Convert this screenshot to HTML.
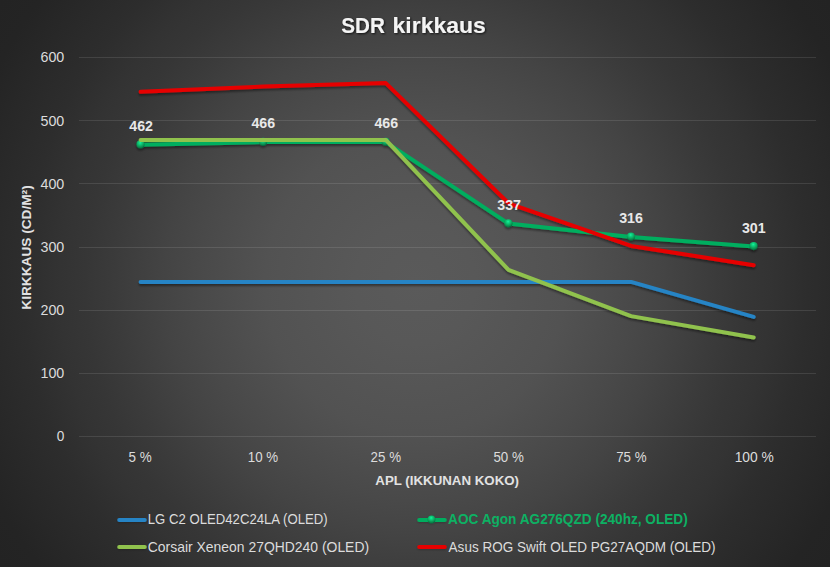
<!DOCTYPE html>
<html><head><meta charset="utf-8"><title>SDR kirkkaus</title>
<style>
html,body{margin:0;padding:0;background:#232323;}
body{width:830px;height:567px;overflow:hidden;font-family:"Liberation Sans",sans-serif;}
svg{display:block;font-family:"Liberation Sans",sans-serif;}
</style></head><body>
<svg width="830" height="567" viewBox="0 0 830 567">
<defs>
<radialGradient id="bg" gradientUnits="userSpaceOnUse" cx="415" cy="283.5" r="502">
<stop offset="0.0000" stop-color="rgb(90,90,90)"/>
<stop offset="0.0598" stop-color="rgb(89,89,89)"/>
<stop offset="0.1195" stop-color="rgb(88,88,88)"/>
<stop offset="0.1793" stop-color="rgb(86,86,86)"/>
<stop offset="0.2390" stop-color="rgb(84,84,84)"/>
<stop offset="0.2988" stop-color="rgb(82,82,82)"/>
<stop offset="0.3586" stop-color="rgb(78,78,78)"/>
<stop offset="0.4323" stop-color="rgb(73,73,73)"/>
<stop offset="0.4980" stop-color="rgb(68,68,68)"/>
<stop offset="0.5538" stop-color="rgb(63,63,63)"/>
<stop offset="0.5976" stop-color="rgb(59,59,59)"/>
<stop offset="0.6574" stop-color="rgb(54,54,54)"/>
<stop offset="0.7072" stop-color="rgb(51,51,51)"/>
<stop offset="0.7809" stop-color="rgb(45,45,45)"/>
<stop offset="0.8167" stop-color="rgb(43,43,43)"/>
<stop offset="0.8685" stop-color="rgb(40,40,40)"/>
<stop offset="0.9363" stop-color="rgb(36,36,36)"/>
<stop offset="1.0000" stop-color="rgb(35,35,35)"/>
</radialGradient>
<filter id="sh" filterUnits="userSpaceOnUse" x="0" y="0" width="830" height="567">
<feGaussianBlur in="SourceAlpha" stdDeviation="1.1"/>
<feOffset dx="0" dy="1.6"/>
<feComponentTransfer><feFuncA type="linear" slope="0.42"/></feComponentTransfer>
<feMerge><feMergeNode/><feMergeNode in="SourceGraphic"/></feMerge>
</filter>
<filter id="lsh" filterUnits="userSpaceOnUse" x="100" y="500" width="400" height="67">
<feGaussianBlur in="SourceAlpha" stdDeviation="0.9"/>
<feOffset dx="0" dy="1"/>
<feComponentTransfer><feFuncA type="linear" slope="0.22"/></feComponentTransfer>
<feMerge><feMergeNode/><feMergeNode in="SourceGraphic"/></feMerge>
</filter>
<filter id="tsh" filterUnits="userSpaceOnUse" x="300" y="0" width="230" height="50">
<feGaussianBlur in="SourceAlpha" stdDeviation="1.1"/>
<feOffset dx="0.8" dy="1.4"/>
<feComponentTransfer><feFuncA type="linear" slope="0.75"/></feComponentTransfer>
<feMerge><feMergeNode/><feMergeNode in="SourceGraphic"/></feMerge>
</filter>
<radialGradient id="mk" cx="0.46" cy="0.30" r="0.66">
<stop offset="0" stop-color="#14f5a0"/><stop offset="0.22" stop-color="#10d884"/><stop offset="0.55" stop-color="#0bb064"/><stop offset="1" stop-color="#067040"/>
</radialGradient>
</defs>

<rect width="830" height="567" fill="url(#bg)"/>
<g stroke="#ffffff" stroke-opacity="0.105" stroke-width="1" shape-rendering="crispEdges">
<line x1="79" x2="816" y1="436.5" y2="436.5"/>
<line x1="79" x2="816" y1="373.3" y2="373.3"/>
<line x1="79" x2="816" y1="310.2" y2="310.2"/>
<line x1="79" x2="816" y1="247.0" y2="247.0"/>
<line x1="79" x2="816" y1="183.8" y2="183.8"/>
<line x1="79" x2="816" y1="120.7" y2="120.7"/>
<line x1="79" x2="816" y1="57.5" y2="57.5"/>
</g>
<text x="56.7" y="441.3" font-size="14.5" fill="#dcdcdc" textLength="7.6" lengthAdjust="spacingAndGlyphs">0</text>
<text x="40.5" y="378.1" font-size="14.5" fill="#dcdcdc" textLength="23.8" lengthAdjust="spacingAndGlyphs">100</text>
<text x="40.5" y="315.0" font-size="14.5" fill="#dcdcdc" textLength="23.8" lengthAdjust="spacingAndGlyphs">200</text>
<text x="40.5" y="251.8" font-size="14.5" fill="#dcdcdc" textLength="23.8" lengthAdjust="spacingAndGlyphs">300</text>
<text x="40.5" y="188.6" font-size="14.5" fill="#dcdcdc" textLength="23.8" lengthAdjust="spacingAndGlyphs">400</text>
<text x="40.5" y="125.5" font-size="14.5" fill="#dcdcdc" textLength="23.8" lengthAdjust="spacingAndGlyphs">500</text>
<text x="40.5" y="62.3" font-size="14.5" fill="#dcdcdc" textLength="23.8" lengthAdjust="spacingAndGlyphs">600</text>
<text x="128.5" y="462.3" font-size="14.5" fill="#dcdcdc" textLength="23.2" lengthAdjust="spacingAndGlyphs">5 %</text>
<text x="247.8" y="462.3" font-size="14.5" fill="#dcdcdc" textLength="30.4" lengthAdjust="spacingAndGlyphs">10 %</text>
<text x="370.6" y="462.3" font-size="14.5" fill="#dcdcdc" textLength="30.4" lengthAdjust="spacingAndGlyphs">25 %</text>
<text x="493.4" y="462.3" font-size="14.5" fill="#dcdcdc" textLength="30.4" lengthAdjust="spacingAndGlyphs">50 %</text>
<text x="616.2" y="462.3" font-size="14.5" fill="#dcdcdc" textLength="30.4" lengthAdjust="spacingAndGlyphs">75 %</text>
<text x="734.7" y="462.3" font-size="14.5" fill="#dcdcdc" textLength="39.2" lengthAdjust="spacingAndGlyphs">100 %</text>
<g filter="url(#tsh)"><text x="341.3" y="32.7" font-size="21.5" fill="#f4f4f4" font-weight="bold" textLength="43.6" lengthAdjust="spacingAndGlyphs">SDR</text><text x="392.6" y="32.7" font-size="21.5" fill="#f4f4f4" font-weight="bold" textLength="93.2" lengthAdjust="spacingAndGlyphs">kirkkaus</text></g>
<text x="375.3" y="484.9" font-size="13.3" fill="#e2e2e2" font-weight="bold" textLength="143.7" lengthAdjust="spacingAndGlyphs">APL (IKKUNAN KOKO)</text>
<g transform="translate(30.8,309.7) rotate(-90)"><text x="0.0" y="0.0" font-size="13.3" fill="#e2e2e2" font-weight="bold" textLength="124.4" lengthAdjust="spacingAndGlyphs">KIRKKAUS (CD/M²)</text></g>
<g filter="url(#sh)">
<polyline points="140.6,281.9 263.2,281.9 385.8,281.9 508.5,281.9 631.1,281.9 753.7,316.9" fill="none" stroke="#2584C5" stroke-width="4" stroke-linecap="round" stroke-linejoin="round"/>
<polyline points="140.6,144.7 263.2,142.1 385.8,142.1 508.5,223.6 631.1,236.9 753.7,246.4" fill="none" stroke="#04AE5E" stroke-width="4" stroke-linecap="round" stroke-linejoin="round"/>
<circle cx="140.5" cy="144.4" r="4.1" fill="url(#mk)"/>
<circle cx="263.1" cy="141.8" r="4.1" fill="url(#mk)"/>
<circle cx="385.7" cy="141.8" r="4.1" fill="url(#mk)"/>
<circle cx="508.4" cy="223.3" r="4.1" fill="url(#mk)"/>
<circle cx="631.0" cy="236.6" r="4.1" fill="url(#mk)"/>
<circle cx="753.6" cy="246.1" r="4.1" fill="url(#mk)"/>
<polyline points="140.6,139.9 263.2,139.9 385.8,139.9 508.5,269.9 631.1,316.1 753.7,337.5" fill="none" stroke="#90C24D" stroke-width="4" stroke-linecap="round" stroke-linejoin="round"/>
<polyline points="140.6,91.8 263.2,86.6 385.8,83.1 508.5,203.3 631.1,245.9 753.7,265.2" fill="none" stroke="#E60000" stroke-width="4" stroke-linecap="round" stroke-linejoin="round"/>
</g>
<text x="129.3" y="131.0" font-size="13.8" fill="#e8e8e8" font-weight="bold" textLength="23.7" lengthAdjust="spacingAndGlyphs">462</text>
<text x="251.4" y="128.0" font-size="13.8" fill="#e8e8e8" font-weight="bold" textLength="23.7" lengthAdjust="spacingAndGlyphs">466</text>
<text x="374.4" y="128.0" font-size="13.8" fill="#e8e8e8" font-weight="bold" textLength="23.7" lengthAdjust="spacingAndGlyphs">466</text>
<text x="497.3" y="209.8" font-size="13.8" fill="#e8e8e8" font-weight="bold" textLength="23.7" lengthAdjust="spacingAndGlyphs">337</text>
<text x="619.2" y="222.8" font-size="13.8" fill="#e8e8e8" font-weight="bold" textLength="23.7" lengthAdjust="spacingAndGlyphs">316</text>
<text x="741.9" y="233.0" font-size="13.8" fill="#e8e8e8" font-weight="bold" textLength="23.7" lengthAdjust="spacingAndGlyphs">301</text>
<g filter="url(#lsh)"><line x1="119.2" x2="144.8" y1="519.9" y2="519.9" stroke="#2584C5" stroke-width="4" stroke-linecap="round"/></g><text x="147.8" y="524.4" font-size="14.3" fill="#dcdcdc" textLength="179.8" lengthAdjust="spacingAndGlyphs">LG C2 OLED42C24LA (OLED)</text>
<g filter="url(#lsh)"><line x1="419.2" x2="444.8" y1="519.9" y2="519.9" stroke="#04AE5E" stroke-width="4" stroke-linecap="round"/><circle cx="431.5" cy="519.5" r="3.9" fill="url(#mk)"/></g><text x="448.1" y="524.4" font-size="14.3" fill="#0DB163" font-weight="bold" textLength="239.6" lengthAdjust="spacingAndGlyphs">AOC Agon AG276QZD (240hz, OLED)</text>
<g filter="url(#lsh)"><line x1="119.2" x2="144.8" y1="547.0" y2="547.0" stroke="#90C24D" stroke-width="4" stroke-linecap="round"/></g><text x="147.8" y="551.5" font-size="14.3" fill="#dcdcdc" textLength="221.3" lengthAdjust="spacingAndGlyphs">Corsair Xeneon 27QHD240 (OLED)</text>
<g filter="url(#lsh)"><line x1="419.2" x2="444.8" y1="547.0" y2="547.0" stroke="#E60000" stroke-width="4" stroke-linecap="round"/></g><text x="448.6" y="551.5" font-size="14.3" fill="#dcdcdc" textLength="267.0" lengthAdjust="spacingAndGlyphs">Asus ROG Swift OLED PG27AQDM (OLED)</text>
</svg></body></html>
